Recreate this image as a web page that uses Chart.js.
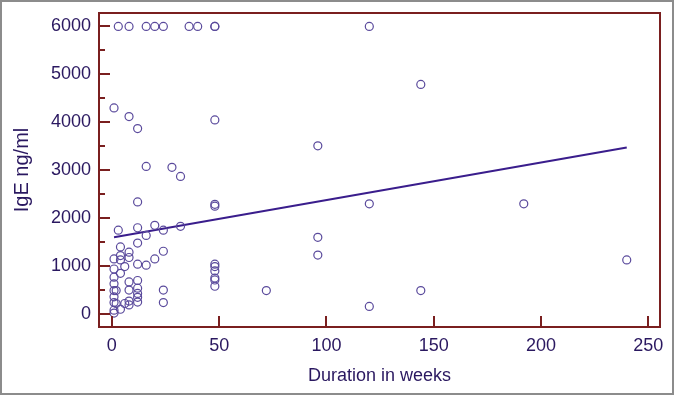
<!DOCTYPE html>
<html>
<head>
<meta charset="utf-8">
<script src="https://cdn.jsdelivr.net/npm/chart.js@4.4.1/dist/chart.umd.min.js"></script>
<style>
  html, body { margin: 0; padding: 0; background: #fff; }
  #wrap { width: 674px; height: 395px; }
</style>
</head>
<body>
<div id="wrap"><canvas id="scatter" width="674" height="395"></canvas></div>
<script>
// durations (weeks) and IgE values
const durationWeeks = [
  3, 8, 16, 20, 24, 36, 40, 48, 48, 120,
  1, 8, 12, 48, 144, 96,
  16, 28, 32, 12, 48, 48, 120, 192,
  96, 96, 240, 72, 144, 120,
  3, 12, 20, 24, 32, 16, 12, 4, 24,
  8, 8, 4, 4, 1, 20, 12, 16, 6, 1, 4,
  48, 48, 48, 48, 48, 48,
  1, 1, 1, 2, 1, 1, 2, 1, 1, 4, 6,
  8, 8, 8, 8, 12, 12, 12, 12, 12, 24, 24
];
const igeLevels = [
  6000, 6000, 6000, 6000, 6000, 6000, 6000, 6000, 6000, 6000,
  4300, 4120, 3870, 4050, 4790, 3510,
  3080, 3060, 2870, 2340, 2290, 2250, 2300, 2300,
  1600, 1230, 1130, 490, 490, 160,
  1750, 1800, 1850, 1750, 1830, 1640, 1480, 1400, 1310,
  1290, 1180, 1220, 1130, 1150, 1150, 1040, 1020, 990, 940, 850,
  1040, 990, 900, 750, 710, 580,
  770, 630, 490, 490, 360, 240, 220, 80, 20, 100, 220,
  670, 500, 270, 190, 700, 540, 430, 350, 250, 500, 240
];
// regression line end points
const fitWeeks = [1, 240];
const fitIgE = [1600, 3475];

const xTicks = [0, 50, 100, 150, 200, 250];
const yTicks = [0, 1000, 2000, 3000, 4000, 5000, 6000];
const yMinorTicks = [500, 1500, 2500, 3500, 4500, 5500];

const frameColor = '#7a1f1f';
const textColor = '#2a1860';
const fontFamily = "'Liberation Sans', Arial, sans-serif";

const points = durationWeeks.map((w, i) => ({ x: w, y: igeLevels[i] }));
const fitLine = fitWeeks.map((w, i) => ({ x: w, y: fitIgE[i] }));

// frame, inward ticks and the outer grey border
const framePlugin = {
  id: 'frame',
  afterDraw(chart) {
    const { ctx, chartArea: a, scales } = chart;
    ctx.save();
    ctx.strokeStyle = frameColor;
    ctx.lineWidth = 2;
    ctx.strokeRect(a.left, a.top, a.right - a.left, a.bottom - a.top);
    ctx.beginPath();
    yTicks.forEach(v => {
      const y = Math.round(scales.y.getPixelForValue(v));
      ctx.moveTo(a.left, y); ctx.lineTo(a.left + 11, y);
    });
    yMinorTicks.forEach(v => {
      const y = Math.round(scales.y.getPixelForValue(v));
      ctx.moveTo(a.left, y); ctx.lineTo(a.left + 6, y);
    });
    xTicks.forEach(v => {
      const x = Math.round(scales.x.getPixelForValue(v));
      ctx.moveTo(x, a.bottom); ctx.lineTo(x, a.bottom - 11);
    });
    ctx.stroke();
    ctx.strokeStyle = '#8c8c8c';
    ctx.lineWidth = 2;
    ctx.strokeRect(1, 1, chart.width - 2, chart.height - 2);
    ctx.restore();
  }
};

new Chart(document.getElementById('scatter'), {
  type: 'scatter',
  data: {
    datasets: [
      {
        label: 'IgE',
        data: points,
        pointStyle: 'circle',
        pointRadius: 4,
        borderColor: '#5a4a9c',
        backgroundColor: 'rgba(255,255,255,0)',
        borderWidth: 1.2
      },
      {
        type: 'line',
        label: 'fit',
        data: fitLine,
        borderColor: '#3a1d8c',
        borderWidth: 2,
        pointRadius: 0,
        fill: false
      }
    ]
  },
  options: {
    responsive: false,
    animation: false,
    layout: { padding: { left: 0, top: 13, right: 14, bottom: 0 } },
    plugins: { legend: { display: false }, tooltip: { enabled: false } },
    scales: {
      x: {
        type: 'linear',
        min: -6,
        max: 255.5,
        afterBuildTicks: s => { s.ticks = xTicks.map(v => ({ value: v })); },
        afterFit: s => { s.height = 68; s.paddingLeft = 0; s.paddingRight = 0; },
        grid: { display: false, drawTicks: false },
        border: { display: false },
        ticks: {
          color: textColor, font: { family: fontFamily, size: 18 }, padding: 8,
          callback: v => String(v)
        },
        title: {
          display: true,
          text: 'Duration in weeks',
          color: textColor,
          font: { family: fontFamily, size: 18 },
          padding: { top: 0, bottom: 8 }
        }
      },
      y: {
        type: 'linear',
        min: -270,
        max: 6280,
        afterBuildTicks: s => { s.ticks = yTicks.map(v => ({ value: v })); },
        afterFit: s => { s.width = 99; s.paddingTop = 0; s.paddingBottom = 0; },
        grid: { display: false, drawTicks: false },
        border: { display: false },
        ticks: {
          color: textColor, font: { family: fontFamily, size: 18 }, padding: 8,
          callback: v => String(v)
        },
        title: {
          display: true,
          text: 'IgE ng/ml',
          color: textColor,
          font: { family: fontFamily, size: 20 },
          padding: { top: 10, bottom: 0 }
        }
      }
    }
  },
  plugins: [framePlugin]
});
</script>
</body>
</html>
